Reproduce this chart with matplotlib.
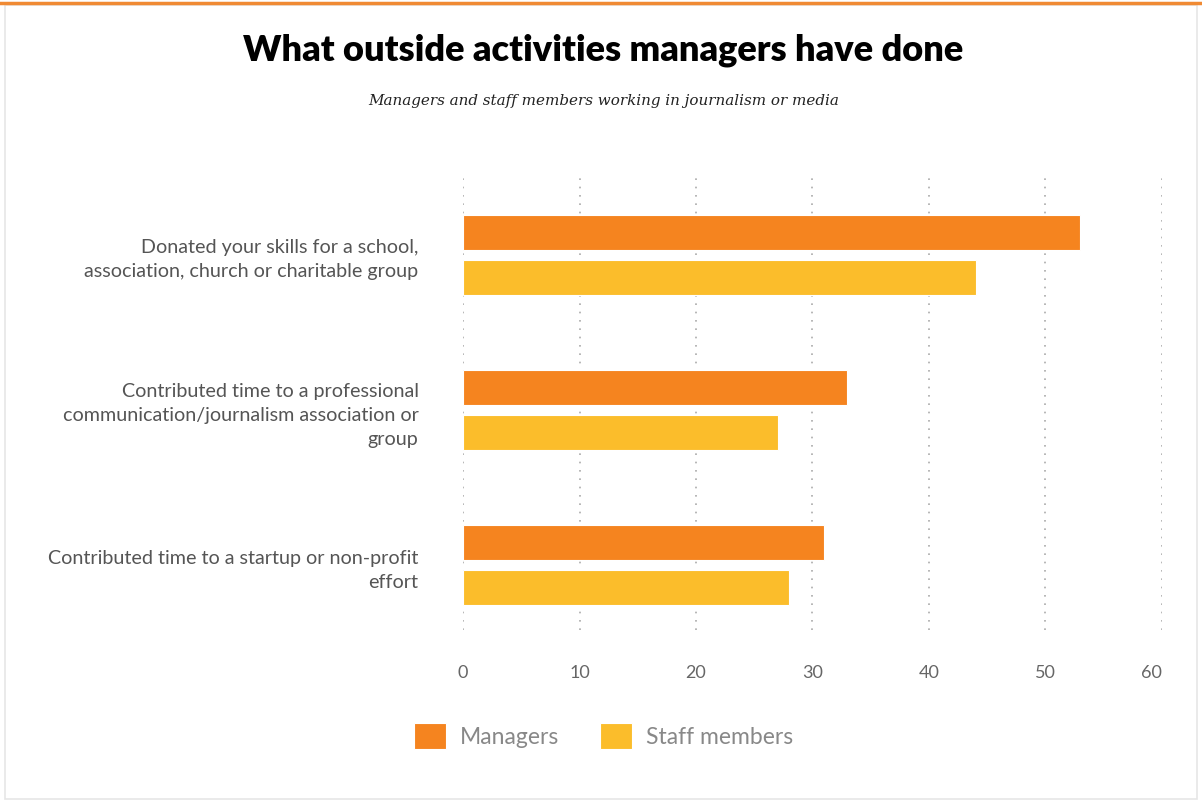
import numpy as np
import matplotlib
matplotlib.use('Agg')
from matplotlib import pyplot as plt
from matplotlib.patches import Rectangle

categories = [
    'Donated your skills for a school,\nassociation, church or charitable group',
    'Contributed time to a professional\ncommunication/journalism association or\ngroup',
    'Contributed time to a startup or non-profit\neffort',
]
managers = [53, 33, 31]
staff = [44, 27, 28]
xticks = [0, 10, 20, 30, 40, 50, 60]

orange = '#F5841F'
yellow = '#FBBD2B'

fig = plt.figure(figsize=(12.02, 8.02), dpi=100)
fig.patch.set_facecolor('white')

# frame and top accent line
fig.add_artist(Rectangle((0.004, 0.004), 0.992, 0.99, transform=fig.transFigure,
                         fill=False, edgecolor='#e6e6e6', linewidth=1.2))
fig.add_artist(plt.Line2D([0, 1], [0.9965, 0.9965], transform=fig.transFigure,
                          color='#F08A33', linewidth=2.5))

fig.text(0.502, 0.937, 'What outside activities managers have done', ha='center', va='center',
         fontsize=26, fontweight='heavy', family='Lato', color='black')
fig.text(0.502, 0.874, 'Managers and staff members working in journalism or media', ha='center',
         va='center', fontsize=10.9, style='italic', family='DejaVu Serif', color='#222222')

ax = fig.add_axes([0.3852, 0.2145, 0.5815, 0.5673])
y = np.arange(len(categories))
h = 0.226
off = 0.148
ax.barh(y - off, managers, height=h, color=orange, edgecolor='white', linewidth=0.8,
        label='Managers', zorder=3)
ax.barh(y + off, staff, height=h, color=yellow, edgecolor='white', linewidth=0.8,
        label='Staff members', zorder=3)

ax.set_xlim(0, 60)
ax.set_ylim(2.419, -0.516)
ax.set_xticks(xticks)
ax.set_yticks(y)
ax.set_yticklabels(categories, family='Lato', fontsize=14.2, color='#555555',
                   ha='right', linespacing=1.5)
ax.tick_params(axis='y', length=0, pad=32)
ax.tick_params(axis='x', length=0, pad=25, labelsize=13, labelcolor='#666666')
for lab in ax.get_xticklabels():
    lab.set_family('Lato')
# last tick label kept inside the plot edge
ax.get_xticklabels()[-1].set_horizontalalignment('right')

for s in ax.spines.values():
    s.set_visible(False)
ax.grid(axis='x', linestyle=(0, (1, 4)), color='#aaaaaa', linewidth=1.2, zorder=0)
ax.grid(axis='y', visible=False)

leg = fig.legend(loc='center', bbox_to_anchor=(0.502, 0.082), ncol=2, frameon=False,
                 handlelength=1.4, handleheight=1.4, handletextpad=0.6, columnspacing=1.8,
                 prop={'family': 'Lato', 'size': 16.5})
for t in leg.get_texts():
    t.set_color('#888888')

plt.savefig('out.png', dpi=100, facecolor='white')
